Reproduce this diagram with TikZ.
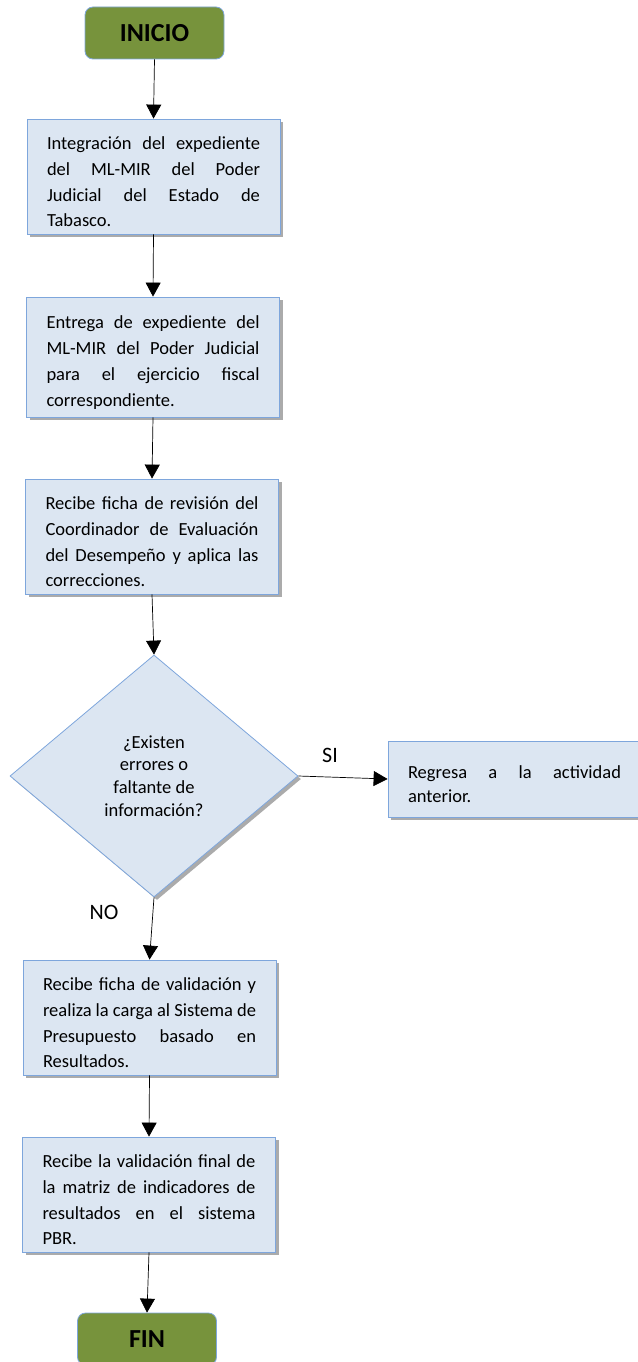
\documentclass[tikz,border=0pt]{standalone}
\usepackage{fontspec}
\setmainfont{Carlito}
\usetikzlibrary{arrows.meta,shapes.geometric,shadows}
\definecolor{azulcaja}{HTML}{DCE6F2}
\definecolor{azulborde}{HTML}{7EA6DC}
\definecolor{verdeolivo}{HTML}{77933C}
\tolerance=10000
\hyphenpenalty=10000
\exhyphenpenalty=10000

\begin{document}
\begin{tikzpicture}[x=1pt, y=-1pt,
  sombra/.style={drop shadow={shadow xshift=3pt, shadow yshift=-3pt, fill=black!60, opacity=0.55}},
  paso/.style={draw=azulborde, fill=azulcaja, line width=0.8pt, text width=213pt,
    inner xsep=20pt, inner ysep=0pt, minimum height=115pt, align=justify,
    font=\fontsize{18.5}{25.7}\selectfont, execute at begin node={\rule{0pt}{24pt}}, sombra},
  terminal/.style={draw=azulborde, fill=verdeolivo, line width=0.8pt, rounded corners=8pt,
    minimum width=139pt, minimum height=52pt, font=\fontsize{26}{30}\selectfont\bfseries},
  decision/.style={diamond, draw=azulborde, fill=azulcaja, line width=0.8pt, inner sep=0pt,
    minimum width=288pt, minimum height=242pt, align=center,
    font=\fontsize{18.5}{22.7}\selectfont, sombra},
  flecha/.style={-{Triangle[width=15pt,length=14pt]}, line width=0.7pt},
  etiqueta/.style={font=\fontsize{22}{26}\selectfont}]
  \useasboundingbox (0,0) rectangle (637,1362);

  \node[terminal] (inicio) at (154.5,33) {INICIO};
  \node[paso] (integra) at (153.5,176.5)
    {Integración del expediente\linebreak del ML-MIR del Poder\linebreak Judicial del Estado de\linebreak Tabasco.};
  \node[paso, minimum height=120pt] (entrega) at (153,357)
    {Entrega de expediente del\linebreak ML-MIR del Poder Judicial\linebreak para el ejercicio fiscal\linebreak correspondiente.};
  \node[paso] (revision) at (152,536.5)
    {Recibe ficha de revisión del\linebreak Coordinador de Evaluación\linebreak del Desempeño y aplica las\linebreak correcciones.};
  \node[decision] (errores) at (154,776)
    {¿Existen\\errores o\\faltante de\\información?};
  \node[paso, minimum height=76pt, execute at begin node={}, font=\fontsize{18.5}{24}\selectfont] (regresa) at (514.5,779)
    {Regresa a la actividad\linebreak anterior.};
  \node[paso] (validacion) at (149.5,1017.5)
    {Recibe ficha de validación y\linebreak realiza la carga al Sistema de\linebreak Presupuesto basado en\linebreak Resultados.};
  \node[paso] (final) at (149,1194.5)
    {Recibe la validación final de\linebreak la matriz de indicadores de\linebreak resultados en el sistema\linebreak PBR.};
  \node[terminal] (fin) at (147,1339) {FIN};

  \node[etiqueta] (si) at (330,755) {SI};
  \node[etiqueta] (no) at (104,912) {NO};

  \draw[flecha] (inicio.south) -- (integra.north);
  \draw[flecha] (integra.south) -- (entrega.north);
  \draw[flecha] (entrega.south) -- (revision.north);
  \draw[flecha] (revision.south) -- (errores.north);
  \draw[flecha] (errores.east) -- (regresa.west);
  \draw[flecha] (errores.south) -- (validacion.north);
  \draw[flecha] (validacion.south) -- (final.north);
  \draw[flecha] (final.south) -- (fin.north);
\end{tikzpicture}
\end{document}
